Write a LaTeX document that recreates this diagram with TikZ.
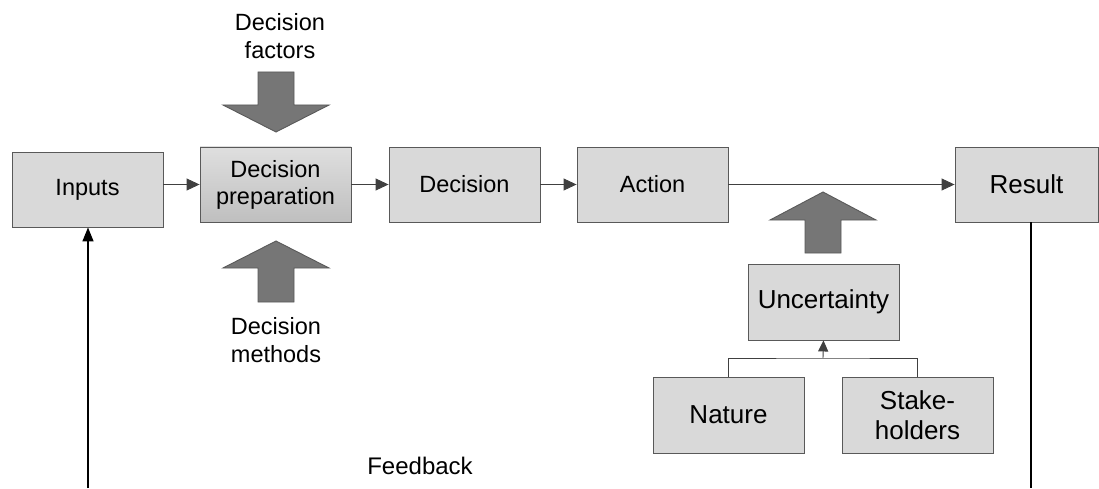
\documentclass[tikz,border=0pt]{standalone}
\usepackage{fontspec}
\setmainfont{Liberation Sans}
\usetikzlibrary{arrows.meta,positioning}
\definecolor{boxfill}{HTML}{D9D9D9}
\definecolor{boxline}{HTML}{595959}
\definecolor{bigarrow}{HTML}{767676}
\definecolor{conn}{HTML}{404040}
\begin{document}
\begin{tikzpicture}[x=1pt,y=1pt,
  box/.style={draw=boxline,fill=boxfill,line width=0.9pt,minimum width=151pt,minimum height=75pt,inner sep=0pt,align=center,font=\fontsize{23.5}{27}\selectfont},
  boxb/.style={box,font=\fontsize{26}{30}\selectfont},
  lbl/.style={align=center,inner sep=0pt,font=\fontsize{23.5}{28}\selectfont},
  conn/.style={draw=conn,line width=0.9pt,-{Triangle[length=13pt,width=12pt]}},
  plain/.style={draw=conn,line width=0.9pt},
  fb/.style={draw=black,line width=1.5pt},
  big/.style={fill=bigarrow,draw=boxline,line width=0.9pt,line join=miter}]
\useasboundingbox (0,0) rectangle (1099,488);
\node[box] (inputs) at (87.5,298.5) {Inputs};
\node[box,top color=boxfill!85!white,bottom color=boxfill!88!black] (prep) at (275.5,303.5) {Decision\\preparation};
\node[box] (decision) at (464.5,303.5) {Decision};
\node[box] (action) at (652.5,303.5) {Action};
\node[boxb,minimum width=143pt] (result) at (1026.5,303.5) {Result};
\node[boxb,minimum height=76pt] (unc) at (823.5,186) {Uncertainty};
\node[boxb,minimum height=76pt] (nature) at (728.5,73) {Nature};
\node[boxb,minimum height=76pt] (stake) at (917.5,73) {Stake-\\holders};
\node[lbl] (factors) at (280,452) {Decision\\factors};
\node[lbl] (methods) at (276,148) {Decision\\methods};
\node[lbl,font=\fontsize{24}{28}\selectfont] (feedback) at (420,22) {Feedback};
% big arrows
\draw[big] (258,416) -- (294,416) -- (294,383) -- (329,383) -- (276,356) -- (223,383) -- (258,383) -- cycle;
\draw[big] (258,186) -- (294,186) -- (294,220) -- (329,220) -- (276,247) -- (223,220) -- (258,220) -- cycle;
\draw[big] (805,235) -- (841,235) -- (841,268) -- (876,268) -- (823,296) -- (770,268) -- (805,268) -- cycle;
% connectors
\draw[conn] (inputs.east |- prep.east) -- (prep.east -| prep.west);
\draw[conn] (prep) -- (decision);
\draw[conn] (decision) -- (action);
\draw[conn] (action) -- (result);
\coordinate (join) at (823,130);
\draw[plain] (nature.north) |- (join) -| (stake.north);
\draw[conn,-{Triangle[length=11pt,width=10pt]}] (join) -- (unc.south);
% feedback
\coordinate (fbR) at (1031,0);
\coordinate (fbL) at (88,0);
\draw[fb] (result.south -| fbR) -- (fbR);
\draw[fb,-{Triangle[length=14pt,width=11pt]}] (fbL) -- (fbL |- inputs.south);
\end{tikzpicture}
\end{document}
